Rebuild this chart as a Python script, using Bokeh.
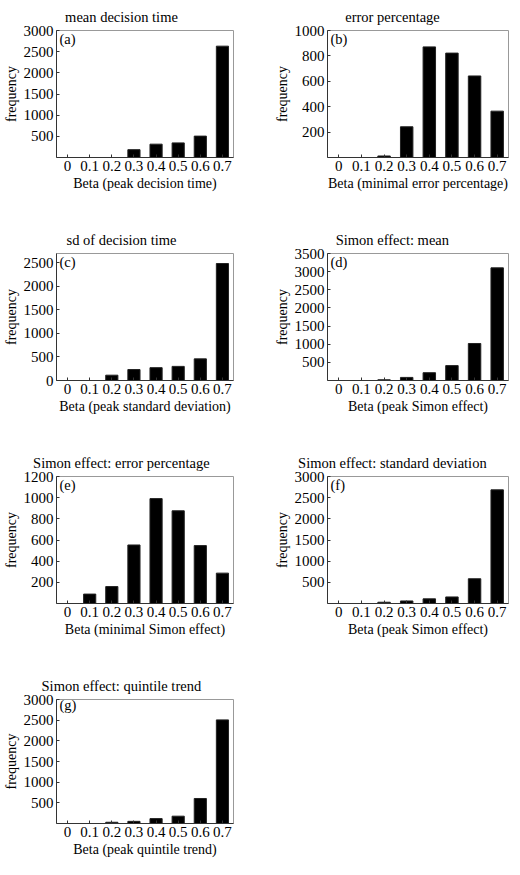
from bokeh.plotting import figure
from bokeh.models import (FactorRange, Range1d, FixedTicker, Label, Title,
                          ColumnDataSource)
from bokeh.layouts import column, row
from bokeh.embed import file_html
from bokeh.resources import INLINE

# ---------------- data ----------------
beta_labels = ["0", "0.1", "0.2", "0.3", "0.4", "0.5", "0.6", "0.7"]

freq_a = [0, 0, 0, 185, 315, 345, 505, 2630]
freq_b = [0, 0, 12, 242, 871, 822, 642, 365]
freq_c = [0, 0, 113, 233, 273, 300, 460, 2487]
freq_d = [0, 0, 20, 85, 215, 410, 1020, 3105]
freq_e = [0, 89, 160, 553, 991, 876, 547, 287]
freq_f = [0, 0, 30, 60, 110, 155, 585, 2685]
freq_g = [0, 0, 30, 52, 118, 177, 605, 2507]

yticks_a = [500, 1000, 1500, 2000, 2500, 3000]
yticks_b = [200, 400, 600, 800, 1000]
yticks_c = [0, 500, 1000, 1500, 2000, 2500]
yticks_d = [500, 1000, 1500, 2000, 2500, 3000, 3500]
yticks_e = [200, 400, 600, 800, 1000, 1200]
yticks_f = [500, 1000, 1500, 2000, 2500, 3000]
yticks_g = [500, 1000, 1500, 2000, 2500, 3000]

ymax_a, ymax_b, ymax_c, ymax_d = 3000, 1000, 2700, 3500
ymax_e, ymax_f, ymax_g = 1200, 3000, 3000

titles = ["mean decision time", "error percentage", "sd of decision time",
          "Simon effect: mean", "Simon effect: error percentage",
          "Simon effect: standard deviation", "Simon effect: quintile trend"]
xlabels = ["Beta (peak decision time)", "Beta (minimal error percentage)",
           "Beta (peak standard deviation)", "Beta (peak Simon effect)",
           "Beta (minimal Simon effect)", "Beta (peak Simon effect)",
           "Beta (peak quintile trend)"]
letters = ["(a)", "(b)", "(c)", "(d)", "(e)", "(f)", "(g)"]
ylabel = "frequency"

# ---------------- style ----------------
FONT = "Liberation Serif"
TICK_FS = "15px"
AX_FS = "14px"
TITLE_PX = 14.5
TITLE_FS = f"{TITLE_PX}px"
DARK = "#333333"
LIGHT = "#999999"

# approximate Times advance widths (per 1000 em) to centre titles
TIMES_W = {"a": 444, "b": 500, "c": 444, "d": 500, "e": 444, "f": 333,
           "g": 500, "h": 500, "i": 278, "l": 278, "m": 778, "n": 500,
           "o": 500, "p": 500, "q": 500, "r": 333, "s": 389, "t": 278,
           "u": 500, "v": 500, "S": 556, ":": 278, " ": 250}


def text_width(s, size):
    return sum(TIMES_W.get(ch, 500) for ch in s) * size / 1000.0


TITLE_CENTER = 65  # px from the frame's left edge
BT = 25            # top border


def make_panel(vals, yticks, ymax, title, xlabel, letter, width, height,
               border_right, border_bottom):
    frame_h = height - BT - border_bottom
    src = ColumnDataSource(dict(beta=beta_labels, freq=vals))
    p = figure(x_range=FactorRange(*beta_labels), y_range=Range1d(0, ymax),
               width=width, height=height, output_backend="svg",
               toolbar_location=None, tools="",
               min_border_left=50, min_border_right=border_right,
               min_border_top=BT, min_border_bottom=border_bottom)
    p.vbar(x="beta", top="freq", width=0.55, source=src,
           fill_color="black", line_color="#222222", line_width=1)
    p.grid.visible = False
    p.outline_line_color = LIGHT
    p.outline_line_width = 1
    p.background_fill_color = "white"
    p.border_fill_color = "white"

    for ax in (p.xaxis[0], p.yaxis[0]):
        ax.axis_line_color = DARK
        ax.major_tick_line_color = DARK
        ax.major_tick_in = 3
        ax.major_tick_out = 0
        ax.minor_tick_line_color = None
        ax.major_label_text_font = FONT
        ax.major_label_text_font_size = TICK_FS
        ax.major_label_text_color = "black"
        ax.axis_label_text_font = FONT
        ax.axis_label_text_font_size = AX_FS
        ax.axis_label_text_font_style = "normal"
        ax.axis_label_text_color = "black"
    p.xaxis[0].major_label_standoff = 3
    p.xaxis[0].axis_label_standoff = 2
    p.yaxis[0].major_label_standoff = 3
    p.yaxis[0].axis_label_standoff = 2
    p.xaxis[0].axis_label = xlabel
    p.yaxis[0].axis_label = ylabel
    p.yaxis[0].ticker = FixedTicker(ticks=yticks, minor_ticks=[])

    off = TITLE_CENTER - text_width(title, TITLE_PX) / 2.0
    p.add_layout(Title(text=title, align="left", offset=off, standoff=12,
                       text_font=FONT, text_font_size=TITLE_FS,
                       text_font_style="normal", text_color="black"), "above")
    p.add_layout(Label(x=3, y=frame_h - 5, x_units="screen", y_units="screen",
                       text=letter, text_align="left", text_baseline="top",
                       text_font=FONT, text_font_size=TITLE_FS,
                       text_color="black"))
    return p


W1, W2 = 271, 239
H, HL = 223, 190
BB, BBL = 66, 33

pa = make_panel(freq_a, yticks_a, ymax_a, titles[0], xlabels[0], letters[0], W1, H, 38, BB)
pb = make_panel(freq_b, yticks_b, ymax_b, titles[1], xlabels[1], letters[1], W2, H, 2, BB)
pc = make_panel(freq_c, yticks_c, ymax_c, titles[2], xlabels[2], letters[2], W1, H, 38, BB)
pd_ = make_panel(freq_d, yticks_d, ymax_d, titles[3], xlabels[3], letters[3], W2, H, 2, BB)
pe = make_panel(freq_e, yticks_e, ymax_e, titles[4], xlabels[4], letters[4], W1, H, 38, BB)
pf = make_panel(freq_f, yticks_f, ymax_f, titles[5], xlabels[5], letters[5], W2, H, 2, BB)
pg = make_panel(freq_g, yticks_g, ymax_g, titles[6], xlabels[6], letters[6], W1, HL, 38, BBL)

layout = column(row(pa, pb), row(pc, pd_), row(pe, pf), row(pg))

open("out.html", "w").write(file_html(layout, INLINE))
